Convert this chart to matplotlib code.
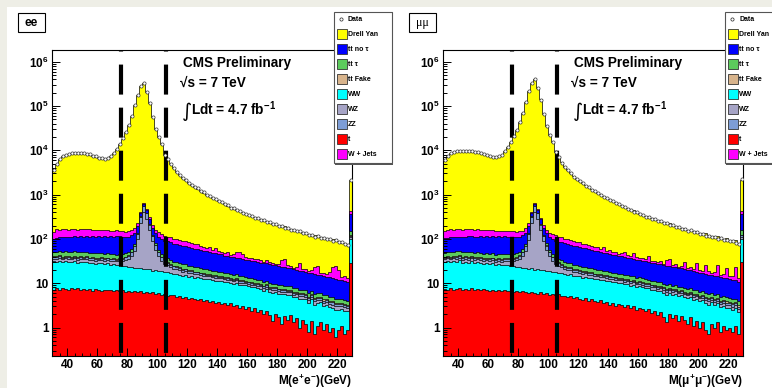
import numpy as np
import matplotlib
matplotlib.use('Agg')
import matplotlib.pyplot as plt
from matplotlib.patches import Rectangle
from matplotlib.lines import Line2D
from matplotlib.ticker import FixedLocator, MultipleLocator, LogLocator, NullFormatter

plt.rcParams['font.family'] = ['Liberation Sans', 'DejaVu Sans']
plt.rcParams['font.weight'] = 'bold'
plt.rcParams['mathtext.fontset'] = 'custom'
plt.rcParams['mathtext.rm'] = 'Liberation Sans:bold'
plt.rcParams['mathtext.bf'] = 'Liberation Sans:bold'
plt.rcParams['mathtext.it'] = 'Liberation Sans:bold:italic'
plt.rcParams['mathtext.default'] = 'bf'
plt.rcParams['lines.scale_dashes'] = False

# ---------------- data ----------------
MASS_LO, MASS_HI, BIN_W = 30, 230, 2
Z_WINDOW = [76, 106]

EE_DATA = [3600, 4950, 6250, 7350, 7950, 8450, 8600, 8750, 8550, 8500,
           8550, 8250, 8050, 7600, 7250, 6800, 6550, 6350, 6700, 7300,
           8600, 10800, 14000, 18500, 26000, 38000, 60000, 105000, 180000, 280000,
           335000, 210000, 115000, 55000, 31000, 20000, 14000, 8000, 6200, 4800,
           3950, 3200, 2800, 2350, 2150, 1820, 1680, 1470, 1380, 1200,
           1120, 980, 940, 830, 800, 700, 675, 600, 575, 505,
           490, 440, 430, 380, 372, 338, 332, 298, 296, 265,
           264, 238, 238, 214, 215, 195, 194, 178, 177, 161,
           162, 147, 148, 134, 135, 124, 124, 113, 114, 105,
           106, 97, 99, 90, 92, 84, 84, 76, 74, 2100]
EE_DY = [3400, 4800, 6100, 7150, 7800, 8250, 8450, 8550, 8450, 8350,
         8350, 8100, 7850, 7450, 7050, 6650, 6400, 6250, 6550, 7150,
         8450, 10650, 13800, 18300, 25800, 37800, 59800, 104500, 179500, 279000,
         334000, 209500, 114800, 54900, 30800, 19850, 13880, 7900, 6080, 4690,
         3800, 3150, 2660, 2310, 2010, 1770, 1570, 1425, 1280, 1155,
         1035, 940, 860, 795, 725, 670, 612, 565, 515, 478,
         436, 408, 380, 352, 328, 310, 292, 273, 259, 242,
         227, 215, 203, 192, 184, 175, 165, 157, 150, 143,
         136, 130, 124, 118, 113, 108, 103, 98, 95, 91,
         87, 84, 81, 77, 75, 71, 68, 65, 59, 1670]
EE_WJETS = [45, 60, 52, 58, 55, 50, 57, 53, 49, 56,
            52, 48, 54, 46, 50, 44, 47, 42, 45, 40,
            38, 42, 36, 39, 34, 37, 33, 35, 32, 34,
            31, 33, 30, 32, 29, 28, 30, 27, 25, 26,
            23, 24, 21, 22, 19, 20, 17, 18, 16, 15,
            12, 10, 14, 9, 16, 8, 7, 6, 8, 5,
            6, 12, 14, 11, 5, 4, 6, 3, 5, 4,
            3, 5, 3, 4, 2, 3, 10, 12, 4, 3,
            2, 3, 9, 2, 3, 2, 3, 8, 9, 2,
            3, 2, 4, 10, 12, 8, 2, 3, 2, 65]
EE_TTNOTAU = [52, 55, 57, 60, 58, 62, 60, 63, 61, 64,
              62, 65, 63, 66, 64, 67, 65, 68, 66, 69,
              67, 70, 68, 66, 64, 62, 63, 60, 58, 59,
              57, 58, 55, 56, 54, 55, 53, 51, 52, 50,
              48, 46, 45, 43, 42, 40, 39, 37, 36, 34,
              33, 32, 31, 29, 29, 27, 27, 25, 25, 23,
              23, 22, 22, 21, 20, 20, 19, 19, 18, 17.5,
              17, 16.5, 16.5, 15.5, 15.5, 14.8, 14.5, 14, 13.5, 13.2,
              12.8, 12.4, 12, 11.6, 11.2, 10.8, 10.5, 10.1, 9.8, 9.4,
              9.1, 8.8, 8.5, 8.2, 7.9, 7.6, 7.3, 7.0, 6.8, 210]
EE_WW = [24, 23, 25, 22, 24, 23, 22, 24, 21, 23,
         22, 23, 21, 22, 20, 21, 22, 20, 21, 19,
         20, 18, 19, 17, 18, 16, 17, 15, 16, 15,
         15, 14, 15, 13, 14, 12.5, 13, 12, 12.5, 11.5,
         11, 11.5, 10.5, 10, 10.5, 9.5, 10, 9, 9.5, 8.5,
         8.8, 8.2, 8.6, 7.8, 8.0, 7.4, 7.8, 7.0, 7.3, 6.8,
         6.6, 6.9, 6.2, 6.0, 6.3, 5.6, 5.8, 5.3, 5.5, 5.0,
         4.8, 5.1, 4.5, 4.7, 4.3, 4.1, 4.4, 3.8, 3.9, 3.6,
         3.5, 3.3, 3.4, 3.0, 3.1, 2.8, 2.9, 2.6, 2.5, 2.4,
         2.2, 2.0, 2.1, 1.8, 1.9, 1.6, 1.5, 1.7, 1.4, 68]
EE_T = [7.0, 7.6, 7.2, 7.8, 7.4, 7.1, 7.6, 7.3, 7.9, 7.2,
        7.5, 7.0, 7.4, 6.8, 7.3, 7.1, 6.6, 7.2, 6.9, 7.0,
        6.7, 7.1, 6.5, 6.9, 6.4, 6.8, 6.2, 6.6, 6.3, 6.5,
        6.0, 6.4, 5.9, 6.2, 5.6, 6.0, 5.5, 5.8, 5.2, 5.5,
        5.3, 5.0, 5.2, 4.7, 4.9, 4.3, 4.6, 4.4, 4.1, 4.5,
        3.9, 4.2, 3.7, 4.0, 3.5, 3.8, 3.4, 3.6, 3.2, 3.5,
        3.0, 3.3, 2.8, 3.1, 2.6, 2.9, 2.4, 2.7, 2.2, 2.5,
        2.0, 2.3, 1.9, 1.4, 2.0, 1.7, 1.2, 1.8, 1.5, 1.9,
        1.3, 1.6, 1.0, 1.5, 1.2, 0.8, 1.4, 0.7, 1.1, 1.3,
        0.9, 1.2, 0.8, 1.0, 0.6, 0.9, 1.1, 0.7, 0.9, 29]

MM_DATA = [6100, 7600, 8500, 9100, 9500, 9700, 9800, 9750, 9650, 9500,
           9300, 9000, 8700, 8300, 7900, 7500, 7200, 7000, 7300, 8000,
           9400, 11800, 15500, 20500, 29000, 43000, 70000, 125000, 215000, 330000,
           410000, 260000, 140000, 66000, 36000, 22000, 15000, 9200, 6900, 5300,
           4300, 3500, 3050, 2550, 2300, 1980, 1800, 1580, 1470, 1290,
           1200, 1060, 1000, 890, 850, 760, 720, 645, 610, 545,
           520, 470, 455, 405, 395, 360, 350, 315, 310, 280,
           278, 250, 250, 226, 226, 206, 204, 188, 185, 170,
           170, 154, 155, 141, 142, 130, 130, 118, 119, 110,
           110, 101, 103, 94, 96, 88, 88, 80, 77, 2200]
MM_DY = [5950, 7450, 8350, 8940, 9340, 9540, 9640, 9600, 9490, 9350,
         9150, 8850, 8550, 8160, 7760, 7360, 7060, 6870, 7160, 7850,
         9250, 11650, 15350, 20300, 28800, 42800, 69800, 124700, 214500, 329500,
         409000, 259500, 139800, 65900, 35900, 21850, 14870, 9100, 6800, 5200,
         4200, 3420, 2920, 2500, 2210, 1950, 1720, 1540, 1400, 1250,
         1140, 1040, 955, 870, 800, 740, 680, 625, 570, 525,
         480, 450, 420, 390, 360, 335, 315, 295, 280, 262,
         250, 235, 222, 210, 200, 190, 180, 171, 163, 156,
         148, 141, 135, 129, 123, 118, 113, 108, 104, 100,
         96, 92, 89, 85, 82, 78, 75, 72, 66, 1750]
MM_WJETS = [50, 55, 58, 52, 57, 54, 49, 55, 51, 53,
            47, 52, 45, 49, 43, 47, 41, 44, 39, 42,
            37, 40, 35, 38, 33, 36, 32, 34, 31, 33,
            30, 32, 29, 31, 28, 29, 27, 28, 24, 25,
            22, 23, 20, 21, 18, 19, 16, 17, 15, 14,
            11, 13, 9, 15, 7, 10, 6, 8, 5, 7,
            12, 5, 4, 13, 6, 3, 5, 4, 11, 3,
            4, 3, 5, 2, 9, 11, 3, 4, 2, 3,
            10, 2, 3, 2, 11, 3, 2, 9, 3, 2,
            3, 11, 2, 3, 9, 2, 3, 12, 2, 60]
MM_TTNOTAU = [54, 53, 58, 57, 61, 59, 62, 61, 64, 63,
              64, 63, 66, 64, 67, 65, 68, 66, 68, 67,
              69, 68, 67, 65, 65, 62, 62, 60, 59, 58,
              58, 56, 56, 55, 55, 53, 53, 52, 51, 50,
              49, 47, 45, 44, 42, 41, 39, 38, 36, 35,
              33, 33, 31, 30, 29, 28, 27, 26, 25, 24,
              23, 22.5, 22, 21, 20.5, 20, 19, 18.8, 18, 17.5,
              17.2, 16.8, 16.2, 15.8, 15.2, 15, 14.4, 14.1, 13.6, 13.3,
              12.9, 12.5, 12.1, 11.7, 11.3, 10.9, 10.6, 10.2, 9.9, 9.5,
              9.2, 8.9, 8.6, 8.3, 8.0, 7.7, 7.4, 7.1, 6.9, 215]
MM_WW = [23, 25, 22, 24, 23, 25, 22, 23, 22, 24,
         21, 22, 22, 20, 21, 20, 21, 19, 20, 19,
         19, 19, 18, 18, 17, 17, 16, 16, 15, 16,
         14, 15, 14, 14, 13, 13, 12, 12.5, 11.5, 12,
         11, 10.5, 11, 10, 9.8, 9.8, 9.2, 9.4, 8.8, 8.9,
         8.4, 8.6, 8.0, 8.1, 7.6, 7.7, 7.2, 7.3, 6.8, 6.9,
         6.5, 6.5, 6.1, 6.2, 5.8, 5.8, 5.5, 5.4, 5.1, 5.1,
         4.8, 4.7, 4.5, 4.4, 4.2, 4.1, 3.9, 3.9, 3.7, 3.6,
         3.4, 3.4, 3.2, 3.1, 3.0, 2.9, 2.8, 2.7, 2.6, 2.5,
         2.3, 2.2, 2.1, 2.0, 1.9, 1.8, 1.7, 1.6, 1.5, 70]
MM_T = [7.3, 7.0, 7.7, 7.2, 7.5, 7.9, 7.1, 7.4, 7.0, 7.6,
        7.2, 7.4, 6.9, 7.3, 7.0, 6.8, 7.2, 6.7, 7.0, 6.6,
        6.9, 6.5, 6.8, 6.3, 6.7, 6.2, 6.5, 6.4, 6.1, 6.3,
        6.1, 5.8, 6.2, 5.7, 5.9, 5.4, 5.8, 5.3, 5.6, 5.1,
        5.2, 4.9, 5.1, 4.6, 4.8, 4.5, 4.2, 4.6, 4.0, 4.3,
        4.0, 3.7, 4.1, 3.6, 3.8, 3.3, 3.6, 3.1, 3.4, 3.2,
        2.9, 3.2, 2.7, 3.0, 2.5, 2.8, 2.6, 2.3, 2.6, 2.1,
        2.3, 1.9, 2.2, 1.7, 1.3, 2.0, 1.6, 1.9, 1.4, 1.8,
        1.5, 1.2, 1.7, 1.1, 1.4, 1.0, 1.3, 0.9, 0.7, 1.2,
        1.0, 1.3, 0.8, 1.1, 0.9, 1.0, 0.8, 1.1, 0.7, 30]

# small backgrounds, read as identical in both channels
TTTAU = [9.5, 10, 10.5, 10, 11, 10.5, 10, 11, 10.5, 10,
         10.5, 10, 10, 9.5, 10, 9.5, 9.5, 9, 9.5, 9,
         9, 8.5, 9, 8.5, 8.5, 8, 8, 7.5, 8, 7.5,
         7.5, 7, 7, 6.8, 6.8, 6.5, 6.5, 6.2, 6.2, 6,
         5.8, 5.6, 5.5, 5.3, 5.1, 5.0, 4.8, 4.7, 4.5, 4.3,
         4.2, 4.0, 3.9, 3.8, 3.7, 3.6, 3.4, 3.3, 3.2, 3.1,
         3.0, 2.9, 2.8, 2.7, 2.6, 2.5, 2.4, 2.3, 2.2, 2.1,
         2.0, 1.95, 1.9, 1.8, 1.7, 1.65, 1.6, 1.5, 1.45, 1.4,
         1.35, 1.3, 1.28, 1.25, 1.2, 1.15, 1.12, 1.1, 1.05, 1.0,
         1.0, 0.98, 0.95, 0.92, 0.9, 0.88, 0.85, 0.83, 0.8, 30]
TTFAKE = [2.0, 2.1, 2.0, 2.2, 2.1, 2.0, 2.1, 2.0, 1.9, 2.0,
          1.9, 1.9, 1.8, 1.8, 1.8, 1.7, 1.7, 1.7, 1.6, 1.6,
          1.6, 1.5, 1.5, 1.5, 1.4, 1.4, 1.4, 1.3, 1.3, 1.3,
          1.2, 1.2, 1.2, 1.1, 1.1, 1.1, 1.0, 1.0, 1.0, 0.95,
          0.92, 0.9, 0.88, 0.85, 0.82, 0.8, 0.78, 0.76, 0.74, 0.72,
          0.7, 0.68, 0.66, 0.64, 0.62, 0.6, 0.58, 0.56, 0.55, 0.54,
          0.52, 0.5, 0.49, 0.48, 0.46, 0.45, 0.44, 0.42, 0.41, 0.4,
          0.39, 0.38, 0.37, 0.36, 0.35, 0.34, 0.33, 0.32, 0.31, 0.3,
          0.29, 0.28, 0.28, 0.27, 0.26, 0.26, 0.25, 0.24, 0.24, 0.23,
          0.23, 0.22, 0.22, 0.21, 0.21, 0.2, 0.2, 0.19, 0.19, 5]
WZ = [4.5, 4.8, 5.0, 5.0, 5.2, 5.0, 5.1, 5.0, 5.2, 5.0,
      5.0, 5.1, 4.9, 5.0, 5.0, 4.9, 5.0, 5.0, 5.1, 5.2,
      5.4, 5.8, 6.5, 7.5, 9, 12, 18, 32, 75, 210,
      390, 260, 140, 70, 38, 22, 14, 10, 7.5, 6.0,
      5.0, 4.5, 4.0, 3.6, 3.3, 3.0, 2.8, 2.6, 2.4, 2.2,
      2.1, 2.0, 1.9, 1.8, 1.75, 1.7, 1.6, 1.55, 1.5, 1.45,
      1.4, 1.35, 1.3, 1.25, 1.2, 1.15, 1.1, 1.08, 1.05, 1.0,
      0.98, 0.95, 0.92, 0.9, 0.87, 0.85, 0.82, 0.8, 0.78, 0.76,
      0.74, 0.72, 0.7, 0.68, 0.66, 0.64, 0.62, 0.6, 0.58, 0.56,
      0.55, 0.54, 0.52, 0.5, 0.49, 0.48, 0.46, 0.45, 0.44, 12]
ZZ = [2.8, 3.0, 3.1, 3.0, 3.2, 3.0, 3.1, 3.0, 3.1, 3.0,
      3.0, 3.1, 2.9, 3.0, 3.0, 2.9, 3.0, 3.0, 3.1, 3.1,
      3.2, 3.3, 3.6, 4.0, 4.8, 6, 9, 15, 32, 80,
      140, 95, 50, 26, 14, 9, 6.5, 4.8, 3.8, 3.2,
      2.6, 2.4, 2.2, 2.0, 1.9, 1.8, 1.7, 1.6, 1.5, 1.4,
      1.35, 1.3, 1.25, 1.2, 1.15, 1.1, 1.05, 1.0, 0.98, 0.95,
      0.92, 0.9, 0.87, 0.85, 0.82, 0.8, 0.78, 0.76, 0.74, 0.72,
      0.7, 0.68, 0.66, 0.64, 0.62, 0.6, 0.58, 0.56, 0.55, 0.54,
      0.52, 0.5, 0.49, 0.48, 0.47, 0.46, 0.45, 0.44, 0.43, 0.42,
      0.41, 0.4, 0.39, 0.38, 0.37, 0.36, 0.35, 0.34, 0.33, 8]

LEGEND_LABELS = ["Data", "Drell Yan", "tt no \u03c4", "tt \u03c4", "tt Fake",
                 "WW", "WZ", "ZZ", "t", "W + Jets"]
# stack order bottom -> top
STACK_NAMES = ["t", "WW", "WZ", "ZZ", "tt Fake", "tt \u03c4", "tt no \u03c4", "W + Jets", "Drell Yan"]
COLORS = {"t": "#ff0000", "WW": "#00ffff", "WZ": "#a6a4c6", "ZZ": "#7d9dd6",
          "tt Fake": "#d8b48c", "tt \u03c4": "#5ccb5c", "tt no \u03c4": "#0000ff",
          "W + Jets": "#ff00ff", "Drell Yan": "#ffff00"}

EE_COMPS = [EE_T, EE_WW, WZ, ZZ, TTFAKE, TTTAU, EE_TTNOTAU, EE_WJETS, EE_DY]
MM_COMPS = [MM_T, MM_WW, WZ, ZZ, TTFAKE, TTTAU, MM_TTNOTAU, MM_WJETS, MM_DY]

# ---------------- figure ----------------
W, H = 772, 388
fig = plt.figure(figsize=(W / 100, H / 100), dpi=100)
fig.patch.set_facecolor('#eeeee6')

def fx(x):
    return x / W

def fy(y):
    return 1 - y / H

fig.add_artist(Rectangle((fx(7), 0), fx(W - 7), 1 - 7 / H, transform=fig.transFigure,
                         facecolor='white', edgecolor='none', zorder=-5))

YMIN, YMAX = 10 ** -0.632, 10 ** 6.275
edges = np.arange(MASS_LO, MASS_HI + BIN_W, BIN_W)
centers = edges[:-1] + BIN_W / 2


def draw_panel(x0, comps, data, xlabel, tag, tag_family):
    ax = fig.add_axes([fx(x0), fy(355.5), fx(300), (355.5 - 49.5) / H])
    ax.set_yscale('log')
    stack = np.cumsum(np.array(comps, dtype=float), axis=0)
    for k in range(len(comps) - 1, -1, -1):
        ax.stairs(stack[k], edges, baseline=1e-3, fill=True,
                  facecolor=COLORS[STACK_NAMES[k]], edgecolor='black', linewidth=0.5, zorder=1)
    for xv in Z_WINDOW:
        ax.plot([xv, xv], [YMAX, YMIN], color='black', lw=3.0,
                linestyle=(20.5, (21.6, 9.4)), dash_capstyle='butt', zorder=3)
    ax.plot(centers, data, linestyle='none', marker='o', ms=2.3, mfc='white',
            mec='#333333', mew=0.5, zorder=4)
    ax.set_xlim(MASS_LO, MASS_HI)
    ax.set_ylim(YMIN, YMAX)
    ax.xaxis.set_major_locator(MultipleLocator(20))
    ax.xaxis.set_minor_locator(MultipleLocator(5))
    yt = [1, 10, 100, 1e3, 1e4, 1e5, 1e6]
    ax.yaxis.set_major_locator(FixedLocator(yt))
    ax.set_yticklabels(['1', '10', '$10^{2}$', '$10^{3}$', '$10^{4}$', '$10^{5}$', '$10^{6}$'])
    ax.yaxis.set_minor_locator(LogLocator(base=10, subs=np.arange(2, 10)))
    ax.yaxis.set_minor_formatter(NullFormatter())
    ax.tick_params(which='both', direction='in', top=False, right=False, width=0.7)
    ax.tick_params(axis='x', which='major', length=5.5, pad=2.5, labelsize=8.5)
    ax.tick_params(axis='x', which='minor', length=2.5)
    ax.tick_params(axis='y', which='major', length=5.5, pad=2.5, labelsize=8.5)
    ax.tick_params(axis='y', which='minor', length=2.8)
    for lab in ax.get_xticklabels() + ax.get_yticklabels():
        lab.set_fontweight('bold')
    for s in ax.spines.values():
        s.set_linewidth(0.8)
    # axis title
    fig.text(fx(x0 + 300), fy(384.5), xlabel, ha='right', va='baseline', fontsize=8.5,
             fontweight='bold')
    # CMS texts
    fig.text(fx(x0 + 131), fy(66.7), "CMS Preliminary", fontsize=9.8, fontweight='bold',
             va='baseline', ha='left', zorder=6)
    fig.text(fx(x0 + 128), fy(86.7), "\u221as = 7 TeV", fontsize=9.8, fontweight='bold',
             va='baseline', ha='left', zorder=6)
    fig.text(fx(x0 + 130), fy(117), "\u222b", fontsize=14, fontweight='normal',
             family=['DejaVu Sans'], va='baseline', ha='left', zorder=6)
    fig.text(fx(x0 + 139), fy(115), "Ldt = 4.7 fb$^{-1}$", fontsize=9.8,
             fontweight='bold', va='baseline', ha='left', zorder=6)
    # channel tag
    tx = x0 - 34
    fig.add_artist(Rectangle((fx(tx), fy(32)), fx(27), 19 / H, transform=fig.transFigure,
                             facecolor='white', edgecolor='black', lw=0.8, zorder=6))
    fig.text(fx(tx + 13.5), fy(23), tag, ha='center', va='center', fontsize=8.5,
             family=tag_family, fontweight=('bold' if tag == 'ee' else 'normal'), zorder=7)
    # legend
    lx = x0 + 281.5
    lw_box = 58
    fig.add_artist(Rectangle((fx(lx + 1.5), fy(164.5)), fx(lw_box), (153) / H,
                             transform=fig.transFigure, facecolor='#555555',
                             edgecolor='none', zorder=6))
    fig.add_artist(Rectangle((fx(lx), fy(163)), fx(lw_box), (151.5) / H,
                             transform=fig.transFigure, facecolor='white',
                             edgecolor='#555555', lw=0.8, zorder=7))
    for j, lab in enumerate(LEGEND_LABELS):
        yc = 19.3 + 15 * j
        if j == 0:
            fig.add_artist(Line2D([fx(lx + 7)], [fy(yc)], transform=fig.transFigure,
                                  marker='o', ms=2.3, mfc='white', mec='#222222', mew=0.5,
                                  linestyle='none', zorder=8))
        else:
            fig.add_artist(Rectangle((fx(lx + 3), fy(yc + 5)), fx(10), 10 / H,
                                     transform=fig.transFigure, facecolor=COLORS[lab],
                                     edgecolor='#333333', lw=0.6, zorder=8))
        fig.text(fx(lx + 14.5), fy(yc), lab, fontsize=5, fontweight='bold',
                 ha='left', va='center', zorder=9)
    return ax


draw_panel(52, EE_COMPS, EE_DATA, "M(e$^{+}$e$^{-}$)(GeV)", "ee", ['Liberation Sans'])
draw_panel(443, MM_COMPS, MM_DATA, "M(\u03bc$^{+}$\u03bc$^{-}$)(GeV)", "\u03bc\u03bc",
           ['Liberation Serif', 'DejaVu Serif'])

fig.savefig('out.png', dpi=100, facecolor=fig.get_facecolor())
